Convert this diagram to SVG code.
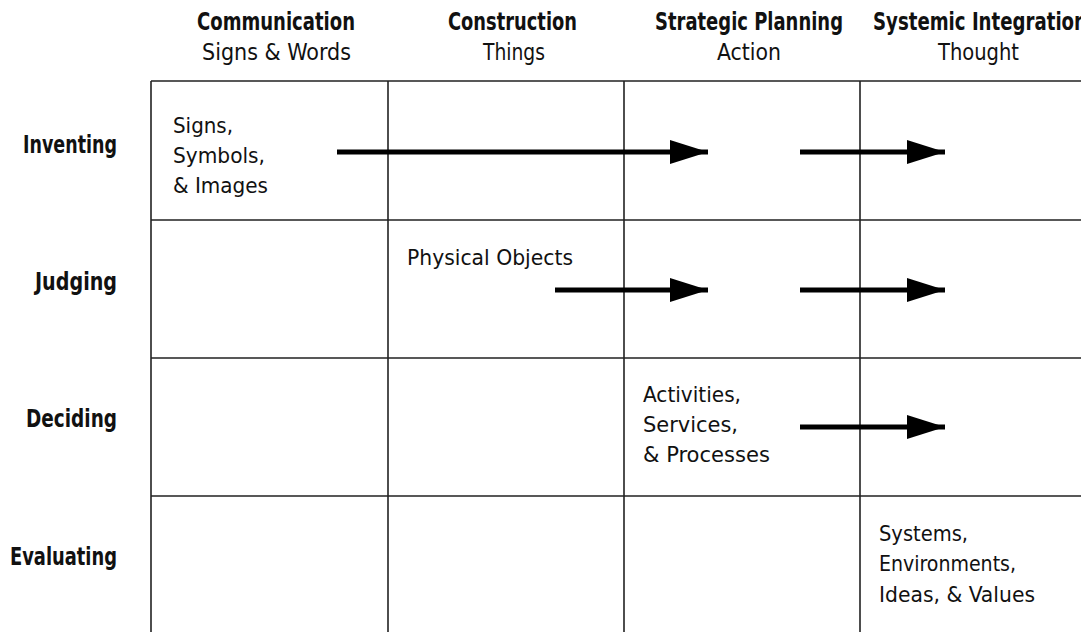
<svg xmlns="http://www.w3.org/2000/svg" width="1081" height="632" viewBox="0 0 1081 632">
  <style>
    text { font-family: "Liberation Sans Narrow", "DejaVu Sans Condensed", "Liberation Sans", sans-serif; fill: #111; }
    .head { font-size: 24.5px; font-weight: bold; }
    .sub { font-size: 23px; }
    .row { font-size: 24px; font-weight: bold; }
    .cell { font-size: 22px; }
    .grid { stroke: #222; stroke-width: 1.6; fill: none; }
    .arrow { stroke: #000; stroke-width: 5; fill: none; }
  </style>
  <defs>
    <marker id="head" markerUnits="userSpaceOnUse" markerWidth="40" markerHeight="26" refX="38" refY="12" orient="auto">
      <polygon points="0,0 38,12 0,24" fill="#000"/>
    </marker>
  </defs>
  <rect width="1081" height="632" fill="#fff"/>

  <g id="grid">
    <path class="grid" d="M151,81 H1081 M151,220 H1081 M151,358 H1081 M151,496 H1081 M151,81 V632 M388,81 V632 M624,81 V632 M860,81 V632"/>
  </g>

  <g id="col-communication">
    <text class="head" x="197" y="30" textLength="158" lengthAdjust="spacingAndGlyphs">Communication</text>
    <text class="sub" x="202" y="60" textLength="149" lengthAdjust="spacingAndGlyphs">Signs &amp; Words</text>
  </g>
  <g id="col-construction">
    <text class="head" x="448" y="30" textLength="129" lengthAdjust="spacingAndGlyphs">Construction</text>
    <text class="sub" x="483" y="60" textLength="62" lengthAdjust="spacingAndGlyphs">Things</text>
  </g>
  <g id="col-strategic">
    <text class="head" x="655" y="30" textLength="188" lengthAdjust="spacingAndGlyphs">Strategic Planning</text>
    <text class="sub" x="717" y="60" textLength="64" lengthAdjust="spacingAndGlyphs">Action</text>
  </g>
  <g id="col-systemic">
    <text class="head" x="873" y="30" textLength="214" lengthAdjust="spacingAndGlyphs">Systemic Integration</text>
    <text class="sub" x="938" y="60" textLength="81" lengthAdjust="spacingAndGlyphs">Thought</text>
  </g>

  <g id="row-inventing"><text class="row" x="23" y="153" textLength="94" lengthAdjust="spacingAndGlyphs">Inventing</text></g>
  <g id="row-judging"><text class="row" x="35" y="290" textLength="82" lengthAdjust="spacingAndGlyphs">Judging</text></g>
  <g id="row-deciding"><text class="row" x="26" y="427" textLength="91" lengthAdjust="spacingAndGlyphs">Deciding</text></g>
  <g id="row-evaluating"><text class="row" x="10" y="565" textLength="107" lengthAdjust="spacingAndGlyphs">Evaluating</text></g>

  <g id="cell-signs">
    <text class="cell" x="173" y="133" textLength="60" lengthAdjust="spacingAndGlyphs">Signs,</text>
    <text class="cell" x="173" y="163" textLength="92" lengthAdjust="spacingAndGlyphs">Symbols,</text>
    <text class="cell" x="173" y="193" textLength="95" lengthAdjust="spacingAndGlyphs">&amp; Images</text>
  </g>
  <g id="cell-objects">
    <text class="cell" x="407" y="265" textLength="166" lengthAdjust="spacingAndGlyphs">Physical Objects</text>
  </g>
  <g id="cell-activities">
    <text class="cell" x="643" y="402" textLength="98" lengthAdjust="spacingAndGlyphs">Activities,</text>
    <text class="cell" x="643" y="432" textLength="95" lengthAdjust="spacingAndGlyphs">Services,</text>
    <text class="cell" x="643" y="462" textLength="127" lengthAdjust="spacingAndGlyphs">&amp; Processes</text>
  </g>
  <g id="cell-systems">
    <text class="cell" x="879" y="541" textLength="89" lengthAdjust="spacingAndGlyphs">Systems,</text>
    <text class="cell" x="879" y="571" textLength="137" lengthAdjust="spacingAndGlyphs">Environments,</text>
    <text class="cell" x="879" y="602" textLength="156" lengthAdjust="spacingAndGlyphs">Ideas, &amp; Values</text>
  </g>

  <g id="connectors">
    <line class="arrow" x1="337" y1="152" x2="708" y2="152" marker-end="url(#head)"/>
    <line class="arrow" x1="800" y1="152" x2="945" y2="152" marker-end="url(#head)"/>
    <line class="arrow" x1="555" y1="290" x2="708" y2="290" marker-end="url(#head)"/>
    <line class="arrow" x1="800" y1="290" x2="945" y2="290" marker-end="url(#head)"/>
    <line class="arrow" x1="800" y1="427" x2="945" y2="427" marker-end="url(#head)"/>
  </g>
</svg>
